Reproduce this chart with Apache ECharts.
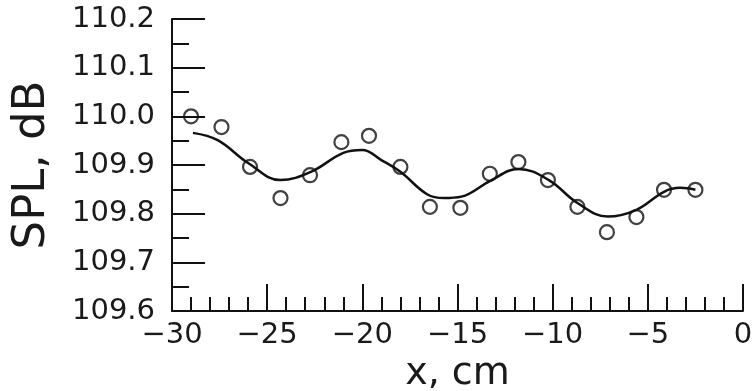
<!DOCTYPE html>
<html>
<head>
<meta charset="utf-8">
<script src="https://cdn.jsdelivr.net/npm/echarts@6/dist/echarts.min.js"></script>
<style>
  html, body { margin: 0; padding: 0; background: #fff; }
  #chart { width: 753px; height: 391px; }
</style>
</head>
<body>
<div id="chart"></div>
<script>
// Measured points (circles), x in cm, SPL in dB
const measuredX = [-29.0, -27.4, -25.9, -24.3, -22.75, -21.1, -19.65, -18.0, -16.45, -14.85, -13.3, -11.8, -10.25, -8.7, -7.15, -5.6, -4.15, -2.5];
const measuredSPL = [110.0, 109.978, 109.896, 109.832, 109.879, 109.947, 109.96, 109.896, 109.814, 109.812, 109.882, 109.906, 109.869, 109.814, 109.762, 109.793, 109.849, 109.849];

// Fitted curve
const curveX = [-28.9, -27.6, -26.0, -24.3, -22.7, -21.0, -20.0, -19.0, -18.0, -16.6, -15.7, -14.8, -13.3, -11.8, -10.2, -8.7, -7.1, -5.6, -4.15, -3.3, -2.5];
const curveSPL = [109.966, 109.951, 109.904, 109.869, 109.886, 109.925, 109.931, 109.91, 109.886, 109.84, 109.832, 109.835, 109.867, 109.892, 109.869, 109.822, 109.794, 109.808, 109.845, 109.853, 109.849];

// Axis ranges
const xRange = [-30, 0];
const yRange = [109.6, 110.2];

const chart = echarts.init(document.getElementById('chart'));

const ink = '#111';
const labelFont = { fontFamily: 'DejaVu Sans', fontSize: 29, color: '#1a1a1a' };

const option = {
    animation: false,
    grid: { left: 172, right: 10, top: 19, bottom: 80, containLabel: false, outerBoundsMode: 'none' },
    xAxis: {
        type: 'value',
        min: xRange[0],
        max: xRange[1],
        interval: 5,
        name: 'x, cm',
        nameLocation: 'middle',
        nameGap: 38,
        nameTextStyle: { fontFamily: 'DejaVu Sans', fontSize: 38, color: '#1a1a1a' },
        axisLine: { show: true, onZero: false, lineStyle: { color: ink, width: 2 } },
        axisTick: { show: true, inside: true, length: 27, lineStyle: { color: ink, width: 2 } },
        minorTick: { show: true, splitNumber: 5, length: 14, lineStyle: { color: ink, width: 2 } },
        axisLabel: Object.assign({
            margin: 10,
            formatter: v => String(v).replace('-', '\u2212')
        }, labelFont),
        splitLine: { show: false }
    },
    yAxis: {
        type: 'value',
        min: yRange[0],
        max: yRange[1],
        interval: 0.1,
        name: 'SPL, dB',
        nameLocation: 'middle',
        nameGap: 117,
        nameRotate: 90,
        nameTextStyle: { fontFamily: 'DejaVu Sans', fontSize: 45, color: '#1a1a1a' },
        axisLine: { show: true, onZero: false, lineStyle: { color: ink, width: 2 } },
        axisTick: { show: true, inside: true, length: 33, lineStyle: { color: ink, width: 2 } },
        minorTick: { show: true, splitNumber: 2, length: 17, lineStyle: { color: ink, width: 2 } },
        axisLabel: Object.assign({
            margin: 17,
            formatter: v => v.toFixed(1)
        }, labelFont),
        splitLine: { show: false }
    },
    series: [
        {
            name: 'fit',
            type: 'line',
            data: curveX.map((x, i) => [x, curveSPL[i]]),
            smooth: 0.4,
            showSymbol: false,
            lineStyle: { color: ink, width: 2.5 }
        },
        {
            name: 'measured',
            type: 'scatter',
            data: measuredX.map((x, i) => [x, measuredSPL[i]]),
            symbol: 'circle',
            symbolSize: 14,
            itemStyle: { color: 'rgba(255,255,255,0)', borderColor: ink, borderWidth: 2.2 }
        }
    ]
};

chart.setOption(option);
</script>
</body>
</html>
